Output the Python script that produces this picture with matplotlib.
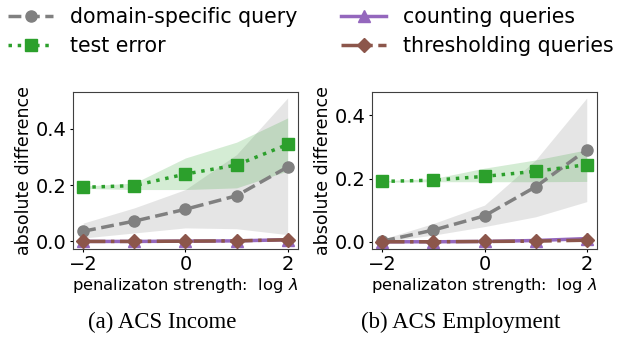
import numpy as np
import matplotlib
matplotlib.use('Agg')
import matplotlib.pyplot as plt

plt.rcParams['font.family'] = ['DejaVu Sans']

# log lambda
x = [-2, -1, 0, 1, 2]

# ACS Income
inc_domain = [0.036, 0.072, 0.114, 0.162, 0.264]
inc_domain_lo = [0.012, 0.030, 0.048, 0.045, 0.024]
inc_domain_hi = [0.065, 0.119, 0.184, 0.308, 0.509]
inc_test = [0.192, 0.198, 0.239, 0.271, 0.344]
inc_test_lo = [0.188, 0.184, 0.184, 0.190, 0.250]
inc_test_hi = [0.196, 0.207, 0.296, 0.352, 0.438]
inc_count = [0.000, 0.000, 0.001, 0.002, 0.006]
inc_thresh = [0.000, 0.000, 0.001, 0.002, 0.006]

# ACS Employment
emp_domain = [0.002, 0.037, 0.082, 0.174, 0.291]
emp_domain_lo = [0.000, 0.021, 0.048, 0.079, 0.127]
emp_domain_hi = [0.008, 0.058, 0.116, 0.259, 0.455]
emp_test = [0.191, 0.195, 0.207, 0.223, 0.244]
emp_test_lo = [0.189, 0.190, 0.190, 0.190, 0.191]
emp_test_hi = [0.193, 0.200, 0.233, 0.259, 0.291]
emp_count = [0.000, 0.000, 0.001, 0.004, 0.010]
emp_thresh = [0.000, 0.000, 0.001, 0.002, 0.005]

captions = ['(a) ACS Income', '(b) ACS Employment']

fig = plt.figure(figsize=(6.18, 3.37), dpi=100)
ax1 = fig.add_axes([0.118, 0.261, 0.364, 0.466])
ax2 = fig.add_axes([0.602, 0.261, 0.364, 0.466])

panels = [
    (ax1, inc_domain, inc_domain_lo, inc_domain_hi, inc_test, inc_test_lo, inc_test_hi,
     inc_count, inc_thresh, (-0.027, 0.53)),
    (ax2, emp_domain, emp_domain_lo, emp_domain_hi, emp_test, emp_test_lo, emp_test_hi,
     emp_count, emp_thresh, (-0.023, 0.474)),
]

for ax, dom, dlo, dhi, te, tlo, thi, cnt, thr, ylim in panels:
    ax.fill_between(x, dlo, dhi, color='gray', alpha=0.2, linewidth=0)
    ax.fill_between(x, tlo, thi, color='tab:green', alpha=0.2, linewidth=0)
    ax.plot(x, dom, '--', marker='o', color='gray', lw=2.5, ms=8,
            label='domain-specific query')
    ax.plot(x, te, ':', marker='s', color='tab:green', lw=2.5, ms=8,
            label='test error')
    ax.plot(x, cnt, '-', marker='^', color='tab:purple', lw=2.5, ms=8,
            label='counting queries')
    ax.plot(x, thr, '-.', marker='D', color='tab:brown', lw=2.5, ms=7,
            label='thresholding queries')
    ax.set_xlim(-2.2, 2.2)
    ax.set_ylim(*ylim)
    ax.set_xticks([-2, 0, 2])
    ax.set_yticks([0.0, 0.2, 0.4])
    ax.tick_params(labelsize=14, length=2.5, pad=2)
    ax.set_xlabel(r'penalizaton strength:  log $\lambda$', fontsize=11.8, labelpad=1)
    ax.set_ylabel('absolute difference', fontsize=12.5, labelpad=2)
    for s in ax.spines.values():
        s.set_color('0.25')

handles, labels = ax1.get_legend_handles_labels()
fig.legend(handles, labels, ncol=2, loc='upper left', bbox_to_anchor=(-0.017, 1.035),
           frameon=False, fontsize=14.8, columnspacing=2.15, handlelength=2.2,
           labelspacing=0.45)

fig.text(0.262, 0.043, captions[0], ha='center', va='center',
         family='Liberation Serif', fontsize=16.5)
fig.text(0.746, 0.043, captions[1], ha='center', va='center',
         family='Liberation Serif', fontsize=16.5)

fig.savefig('out.png', dpi=100)
